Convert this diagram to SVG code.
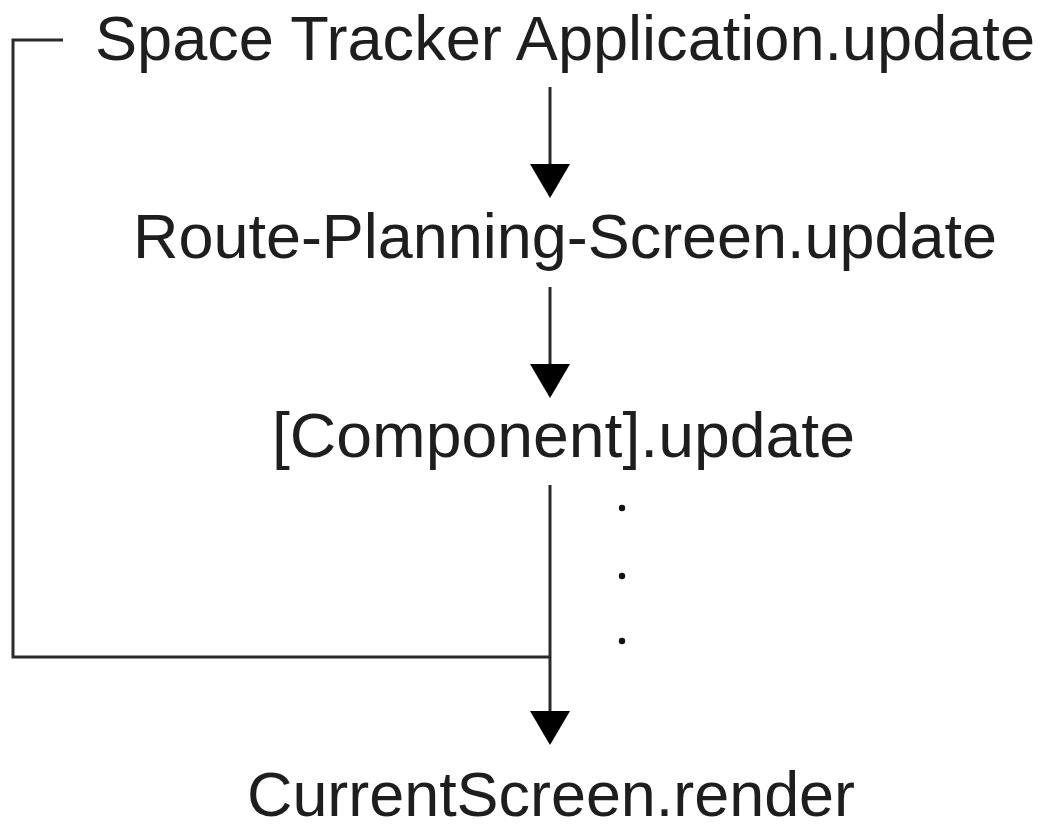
<svg xmlns="http://www.w3.org/2000/svg" xmlns:xlink="http://www.w3.org/1999/xlink" width="1041" height="830" viewBox="0 0 1041 830">
  <style>
    .label { font-family: "Liberation Sans", Arial, sans-serif; font-size: 63px; fill: #1e1e1e; }
    .wire { fill: none; stroke: #2a2a2a; stroke-width: 3; }
    .dot { fill: #111; }
  </style>
  <defs>
    <!-- downward arrowhead, tip at (0,0) -->
    <path id="head" d="M-20,-34 L20,-34 L0,0 Z" fill="#000"/>
  </defs>
  <rect width="1041" height="830" fill="#fff"/>

  <g id="connectors">
    <!-- loop bracket from the application update back down to render -->
    <path class="wire" d="M63,40 H13 V657 H550"/>
    <!-- application -> route planning screen -->
    <line class="wire" x1="550" y1="87" x2="550" y2="166"/>
    <use xlink:href="#head" x="550" y="198"/>
    <!-- route planning screen -> component -->
    <line class="wire" x1="550" y1="287" x2="550" y2="365"/>
    <use xlink:href="#head" x="550" y="398"/>
    <!-- component -> current screen render -->
    <line class="wire" x1="550" y1="485" x2="550" y2="712"/>
    <use xlink:href="#head" x="550" y="745"/>
    <!-- ellipsis dots -->
    <circle class="dot" cx="622" cy="508" r="3.2"/>
    <circle class="dot" cx="622" cy="576" r="3.2"/>
    <circle class="dot" cx="622" cy="641" r="3.2"/>
  </g>

  <g id="app-update">
    <text class="label" x="95" y="60" textLength="940" lengthAdjust="spacingAndGlyphs">Space Tracker Application.update</text>
  </g>
  <g id="route-planning-update">
    <text class="label" x="133" y="258" textLength="864" lengthAdjust="spacingAndGlyphs">Route-Planning-Screen.update</text>
  </g>
  <g id="component-update">
    <text class="label" x="272" y="457" textLength="583" lengthAdjust="spacingAndGlyphs">[Component].update</text>
  </g>
  <g id="current-screen-render">
    <text class="label" x="247" y="816" textLength="608" lengthAdjust="spacingAndGlyphs">CurrentScreen.render</text>
  </g>
</svg>
